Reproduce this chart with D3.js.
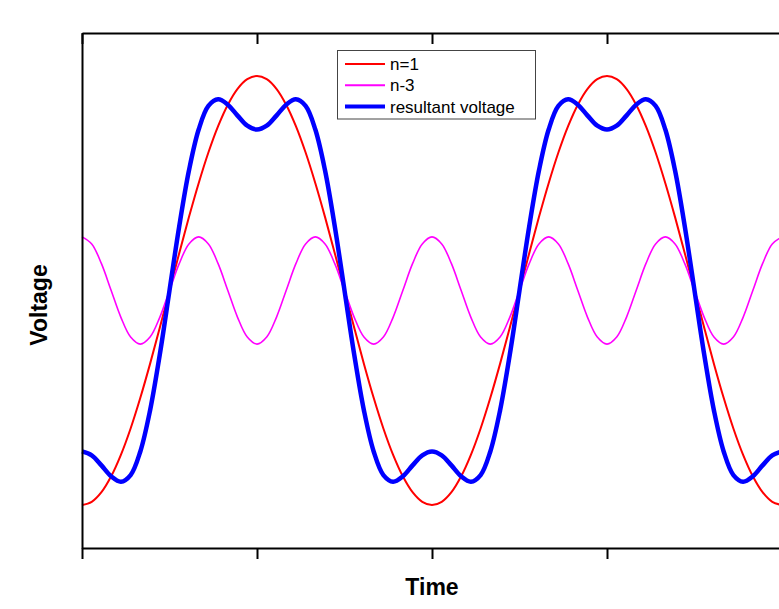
<!DOCTYPE html>
<html>
<head>
<meta charset="utf-8">
<script src="https://cdn.jsdelivr.net/npm/d3@7"></script>
<style>
  html, body { margin: 0; padding: 0; background: #fff; overflow: hidden; }
  svg { display: block; }
</style>
</head>
<body>
<svg id="chart" width="779" height="609"></svg>
<script>
// Time in degrees of the fundamental (sampled every 10 degrees)
const timeDeg = d3.range(0, 721, 10);
const xTicks = [0, 180, 360, 540, 720];

// n=1 fundamental, one period (0..350), repeated for the second period
const n1Period = [-1, -0.985, -0.940, -0.866, -0.766, -0.643, -0.5, -0.342, -0.174, 0,
  0.174, 0.342, 0.5, 0.643, 0.766, 0.866, 0.940, 0.985, 1, 0.985, 0.940, 0.866, 0.766,
  0.643, 0.5, 0.342, 0.174, 0, -0.174, -0.342, -0.5, -0.643, -0.766, -0.866, -0.940, -0.985];
// n-3 third harmonic, one of its periods (12 samples)
const n3Period = [0.25, 0.217, 0.125, 0, -0.125, -0.217, -0.25, -0.217, -0.125, 0, 0.125, 0.217];
// resultant voltage, one period of the fundamental
const resPeriod = [-0.75, -0.768, -0.815, -0.866, -0.891, -0.860, -0.75, -0.559, -0.299, 0,
  0.299, 0.559, 0.75, 0.860, 0.891, 0.866, 0.815, 0.768, 0.75, 0.768, 0.815, 0.866, 0.891,
  0.860, 0.75, 0.559, 0.299, 0, -0.299, -0.559, -0.75, -0.860, -0.891, -0.866, -0.815, -0.768];

const n1 = timeDeg.map((t, i) => n1Period[i % n1Period.length]);
const n3 = timeDeg.map((t, i) => n3Period[i % n3Period.length]);
const resultant = timeDeg.map((t, i) => resPeriod[i % resPeriod.length]);

const seriesNames = ["n=1", "n-3", "resultant voltage"];
const seriesColors = ["#ff0000", "#ff00ff", "#0000ff"];
const seriesWidths = [2, 1.6, 4.5];
const seriesData = [n1, n3, resultant];

const svg = d3.select("#chart");
const pLeft = 82, pRight = 782, pTop = 33, pBottom = 548;

const x = d3.scaleLinear().domain([0, 720]).range([pLeft, pRight]);
const y = d3.scaleLinear().domain([-1.2, 1.2]).range([pBottom, pTop]);

const line = d3.line().curve(d3.curveCatmullRom.alpha(0.5)).x(d => x(d[0])).y(d => y(d[1]));

// series
seriesData.forEach((vals, k) => {
  svg.append("path")
    .datum(timeDeg.map((t, i) => [t, vals[i]]))
    .attr("fill", "none")
    .attr("stroke", seriesColors[k])
    .attr("stroke-width", seriesWidths[k])
    .attr("stroke-linejoin", "round")
    .attr("d", line);
});

// axes
const bottomAxis = d3.axisBottom(x).tickValues(xTicks).tickFormat("").tickSizeInner(11).tickSizeOuter(0);
const topAxis = d3.axisBottom(x).tickValues(xTicks).tickFormat("").tickSizeInner(11).tickSizeOuter(0);
const leftAxis = d3.axisLeft(y).tickValues([]).tickSizeOuter(0);
const rightAxis = d3.axisRight(y).tickValues([]).tickSizeOuter(0);

function styleAxis(g) {
  g.selectAll("path, line").attr("stroke", "#000").attr("stroke-width", 2);
}
svg.append("g").attr("transform", `translate(0,${pBottom})`).call(bottomAxis).call(styleAxis);
svg.append("g").attr("transform", `translate(0,${pTop})`).call(topAxis).call(styleAxis);
svg.append("g").attr("transform", `translate(${pLeft},0)`).call(leftAxis).call(styleAxis);
svg.append("g").attr("transform", `translate(${pRight},0)`).call(rightAxis).call(styleAxis);

// axis titles
svg.append("text")
  .attr("x", (pLeft + pRight) / 2).attr("y", 595)
  .attr("text-anchor", "middle")
  .attr("font-family", "Liberation Sans, Arial, sans-serif")
  .attr("font-weight", "bold").attr("font-size", 23)
  .text("Time");
svg.append("text")
  .attr("transform", `translate(47,305) rotate(-90)`)
  .attr("text-anchor", "middle")
  .attr("font-family", "Liberation Sans, Arial, sans-serif")
  .attr("font-weight", "bold").attr("font-size", 23)
  .text("Voltage");

// legend
const lg = svg.append("g");
lg.append("rect")
  .attr("x", 337.5).attr("y", 50.5).attr("width", 198).attr("height", 68.5)
  .attr("fill", "#fff").attr("stroke", "#444").attr("stroke-width", 1);
seriesNames.forEach((name, k) => {
  const yy = 64 + k * 21.3;
  lg.append("line")
    .attr("x1", 345).attr("x2", 385).attr("y1", yy).attr("y2", yy)
    .attr("stroke", seriesColors[k]).attr("stroke-width", k === 2 ? 4 : 2);
  lg.append("text")
    .attr("x", 390).attr("y", yy + 6)
    .attr("font-family", "Liberation Sans, Arial, sans-serif")
    .attr("font-size", 17).attr("fill", "#000")
    .text(name);
});
</script>
</body>
</html>
